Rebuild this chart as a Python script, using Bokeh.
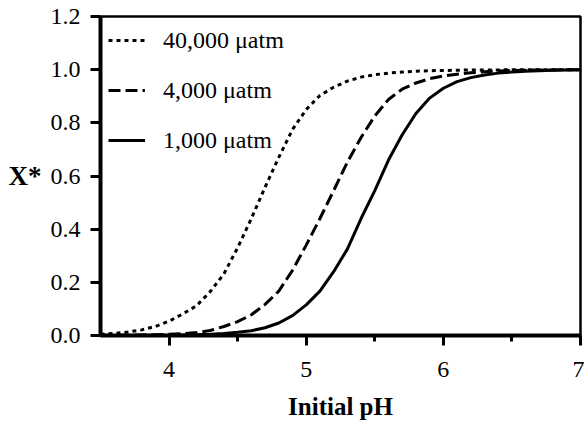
from bokeh.plotting import figure
from bokeh.models import (Range1d, FixedTicker, PrintfTickFormatter, Legend, LegendItem)
from bokeh.embed import file_html
from bokeh.resources import INLINE

# ---- data ----
ph = [3.5, 3.6, 3.7, 3.8, 3.9, 4.0, 4.1, 4.2, 4.3, 4.4, 4.5, 4.6, 4.7, 4.8, 4.9,
      5.0, 5.1, 5.2, 5.3, 5.4, 5.5, 5.6, 5.7, 5.8, 5.9, 6.0, 6.1, 6.2, 6.3, 6.4,
      6.5, 6.6, 6.7, 6.8, 6.9, 7.0]

x_40000 = [0.005, 0.008, 0.013, 0.021, 0.034, 0.054, 0.081, 0.112, 0.165, 0.232,
           0.330, 0.440, 0.558, 0.670, 0.775, 0.850, 0.903, 0.934, 0.957, 0.972,
           0.981, 0.987, 0.991, 0.994, 0.996, 0.997, 0.998, 0.999, 0.999, 0.999,
           1.0, 1.0, 1.0, 1.0, 1.0, 1.0]

x_4000 = [0.001, 0.001, 0.002, 0.002, 0.003, 0.005, 0.007, 0.011, 0.019, 0.034,
          0.052, 0.078, 0.117, 0.167, 0.245, 0.340, 0.440, 0.545, 0.652, 0.745,
          0.826, 0.888, 0.927, 0.950, 0.966, 0.976, 0.983, 0.988, 0.992, 0.995,
          0.997, 0.998, 0.999, 0.999, 1.0, 1.0]

x_1000 = [0.000, 0.000, 0.000, 0.001, 0.001, 0.001, 0.002, 0.003, 0.005, 0.008,
          0.012, 0.018, 0.029, 0.047, 0.075, 0.115, 0.167, 0.240, 0.325, 0.440,
          0.545, 0.660, 0.755, 0.835, 0.893, 0.930, 0.955, 0.970, 0.980, 0.987,
          0.991, 0.994, 0.996, 0.998, 0.999, 1.0]

series_labels = ["40,000 \u03bcatm", "4,000 \u03bcatm", "1,000 \u03bcatm"]
x_ticks = [4, 5, 6, 7]
x_minor_ticks = [4.5, 5.5, 6.5]
y_ticks = [0.0, 0.2, 0.4, 0.6, 0.8, 1.0, 1.2]

FONT = "'Liberation Serif', 'Times New Roman', Times, serif"

p = figure(width=584, height=427, output_backend="svg", toolbar_location=None,
           x_range=Range1d(3.5, 7.0), y_range=Range1d(0.0, 1.2),
           min_border_left=100, min_border_right=4, min_border_top=16,
           min_border_bottom=92)
p.background_fill_color = "white"
p.border_fill_color = "white"
p.xgrid.visible = False
p.ygrid.visible = False
p.outline_line_color = "black"
p.outline_line_width = 2.5

r1 = p.line(ph, x_40000, line_color="black", line_width=3, line_dash="4 4")
r2 = p.line(ph, x_4000, line_color="black", line_width=3, line_dash="12 5")
r3 = p.line(ph, x_1000, line_color="black", line_width=3)

# axes
xa = p.xaxis[0]
xa.ticker = FixedTicker(ticks=x_ticks, minor_ticks=x_minor_ticks)
xa.axis_line_width = 4
xa.major_tick_line_width = 3
xa.minor_tick_line_width = 3
xa.major_tick_out = 10
xa.major_tick_in = 0
xa.minor_tick_out = 6
xa.minor_tick_in = 0
xa.major_label_text_font = FONT
xa.major_label_text_font_size = "24px"
xa.major_label_text_color = "black"
xa.major_label_standoff = 16
xa.axis_label = "Initial pH"
xa.axis_label_text_font = FONT
xa.axis_label_text_font_size = "25px"
xa.axis_label_text_font_style = "bold"
xa.axis_label_text_color = "black"
xa.axis_label_standoff = 13

ya = p.yaxis[0]
ya.ticker = FixedTicker(ticks=y_ticks, minor_ticks=[])
ya.formatter = PrintfTickFormatter(format="%.1f")
ya.axis_line_width = 4
ya.major_tick_line_width = 3
ya.major_tick_out = 10
ya.major_tick_in = 0
ya.minor_tick_out = 0
ya.minor_tick_in = 0
ya.major_label_text_font = FONT
ya.major_label_text_font_size = "24px"
ya.major_label_text_color = "black"
ya.major_label_standoff = 10
ya.axis_label = "X*"
ya.axis_label_text_font = FONT
ya.axis_label_text_font_size = "27px"
ya.axis_label_text_font_style = "bold"
ya.axis_label_text_color = "black"
ya.axis_label_standoff = 6
ya.axis_label_orientation = "horizontal"

legend = Legend(items=[LegendItem(label=series_labels[0], renderers=[r1]),
                       LegendItem(label=series_labels[1], renderers=[r2]),
                       LegendItem(label=series_labels[2], renderers=[r3])],
                location="top_left", margin=0, padding=8, spacing=18,
                glyph_width=37, glyph_height=32, label_height=32,
                label_standoff=18, label_text_font=FONT,
                label_text_font_size="24px", label_text_color="black",
                background_fill_alpha=0, border_line_alpha=0)
p.add_layout(legend)

open("out.html", "w").write(file_html(p, INLINE))
